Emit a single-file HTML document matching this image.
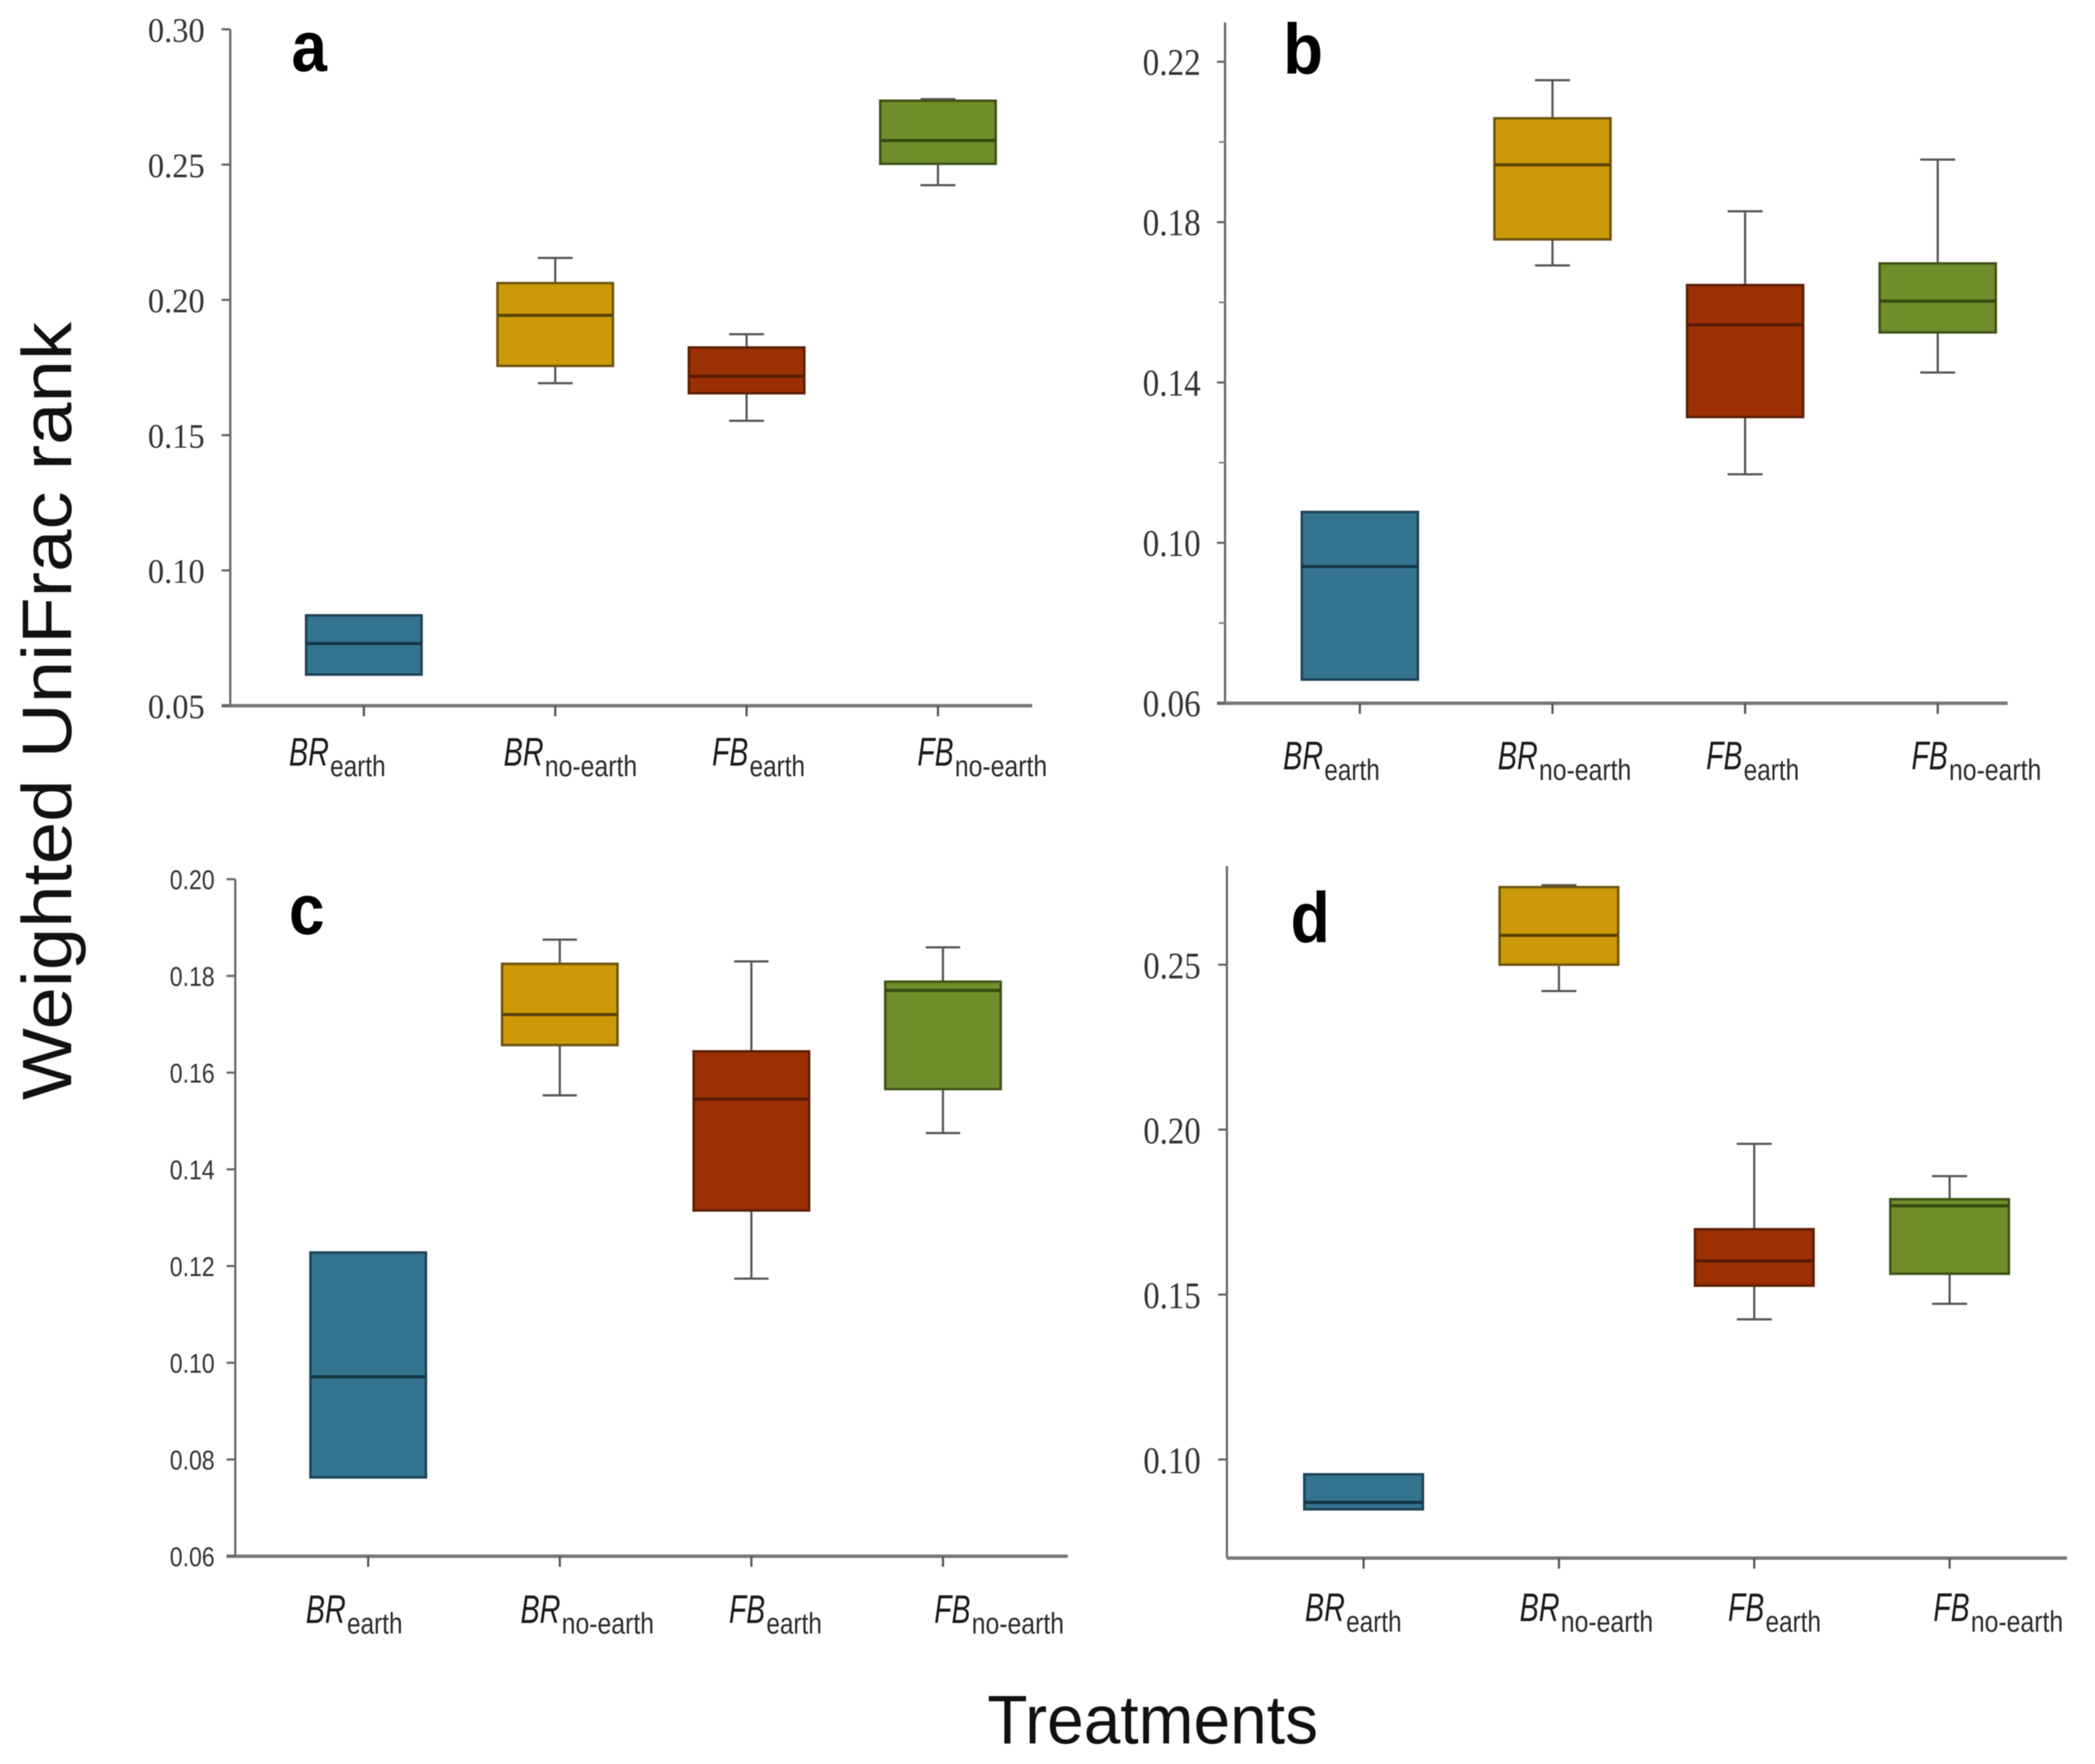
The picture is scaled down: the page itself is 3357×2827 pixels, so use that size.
<!DOCTYPE html>
<html lang="en">
<head>
<meta charset="utf-8">
<title>Weighted UniFrac rank by treatment</title>
<style>
html,body{margin:0;padding:0;background:#fff;}
#chart{display:block;width:3357px;height:2827px;filter:blur(0.9px);}
</style>
</head>
<body>
<svg id="chart" xmlns="http://www.w3.org/2000/svg" width="3357" height="2827" viewBox="0 0 3357 2827">
  <rect x="0" y="0" width="3357" height="2827" fill="#ffffff"/>
  <text transform="translate(114,1763) rotate(-90)" font-family="'Liberation Sans',sans-serif" font-size="112" fill="#111" textLength="1247" lengthAdjust="spacingAndGlyphs">Weighted UniFrac rank</text>
  <text x="1582" y="2794" font-family="'Liberation Sans',sans-serif" font-size="110" fill="#111" textLength="530" lengthAdjust="spacingAndGlyphs">Treatments</text>
</svg>
<script>
// Shared categories
const catMain = ["BR", "BR", "FB", "FB"];
const catSub = ["earth", "no-earth", "earth", "no-earth"];

// Panel a values (BR earth, BR no-earth, FB earth, FB no-earth)
const aLow = [null, 0.1692, 0.1553, 0.2424];
const aQ1 = [0.0615, 0.1756, 0.1655, 0.2503];
const aMedian = [0.0730, 0.1943, 0.1718, 0.2589];
const aQ3 = [0.0834, 0.2062, 0.1824, 0.2736];
const aHigh = [null, 0.2155, 0.1873, 0.2742];
const aTicks = ["0.05", "0.10", "0.15", "0.20", "0.25", "0.30"];

// Panel b values
const bLow = [null, 0.1692, 0.1171, 0.1425];
const bQ1 = [0.0659, 0.1757, 0.1314, 0.1525];
const bMedian = [0.0941, 0.1943, 0.1544, 0.1603];
const bQ3 = [0.1077, 0.2059, 0.1643, 0.1697];
const bHigh = [null, 0.2154, 0.1827, 0.1956];
const bTicks = ["0.06", "0.10", "0.14", "0.18", "0.22"];
const bMinorTicks = [0.08, 0.12, 0.16, 0.20];

// Panel c values
const cLow = [null, 0.1553, 0.1174, 0.1475];
const cQ1 = [0.0763, 0.1657, 0.1315, 0.1566];
const cMedian = [0.0971, 0.1720, 0.1545, 0.1770];
const cQ3 = [0.1228, 0.1825, 0.1644, 0.1788];
const cHigh = [null, 0.1875, 0.1830, 0.1859];
const cTicks = ["0.06", "0.08", "0.10", "0.12", "0.14", "0.16", "0.18", "0.20"];

// Panel d values
const dLow = [null, 0.2420, 0.1425, 0.1472];
const dQ1 = [0.0849, 0.2500, 0.1527, 0.1563];
const dMedian = [0.0870, 0.2589, 0.1602, 0.1769];
const dQ3 = [0.0955, 0.2735, 0.1698, 0.1789];
const dHigh = [null, 0.2741, 0.1957, 0.1859];
const dTicks = ["0.10", "0.15", "0.20", "0.25"];

const fills = ["#35748f", "#cc9a08", "#9c2f03", "#6f8e2b"];
const edges = ["#1d4355", "#6e5410", "#5a2005", "#3f5318"];
const medians = ["#143443", "#5a4306", "#561a02", "#35490f"];
const labelOffsets = [0, 344, 678, 1007];

const svg = document.getElementById("chart");
const NS = "http://www.w3.org/2000/svg";

function make(tag, parent, props) {
  const el = document.createElementNS(NS, tag);
  for (const k in props) el.setAttribute(k, props[k]);
  parent.appendChild(el);
  return el;
}

function linearScale(v0, p0, v1, p1) {
  return function (v) { return p0 + (v - v0) * (p1 - p0) / (v1 - v0); };
}

function categoryScale(first, last, count) {
  return function (i) { return first + i * (last - first) / (count - 1); };
}

function drawPanel(p) {
  const y = linearScale(p.refV0, p.refY0, p.refV1, p.refY1);
  const x = categoryScale(p.firstX, p.lastX, catMain.length);
  const g = make("g", svg, {});
  
  

  // Axes
  const yAxis = make("line", g, {x1: p.axisX, x2: p.axisX, y1: p.axisTop, y2: p.axisBottom, stroke: "#666", "stroke-width": 3.5});
  
  
  const xAxis = make("line", g, {x1: p.axisX - p.axisOverhang, x2: p.axisEnd, y1: p.axisBottom, y2: p.axisBottom, stroke: "#777", "stroke-width": 5.5});
  
  

  // Y ticks and labels
  p.ticks.forEach(function (t) {
    const ty = y(parseFloat(t));
    const tick = make("line", g, {x1: p.axisX - p.tickLen, x2: p.axisX, y1: ty, y2: ty, stroke: "#666", "stroke-width": 3.5});
    
    
    const lab = make("text", g, {x: p.tickRight - p.tickWidth, y: ty + p.tickDy, "font-family": p.tickFont, "font-size": p.tickSize, fill: "#333", textLength: p.tickWidth, lengthAdjust: "spacingAndGlyphs"});
    
    
    lab.textContent = t;
  });
  (p.minor || []).forEach(function (t) {
    const ty = y(t);
    const tick = make("line", g, {x1: p.axisX - p.tickLen + 3, x2: p.axisX, y1: ty, y2: ty, stroke: "#888", "stroke-width": 3});
    
    
  });

  // Boxes
  catMain.forEach(function (m, i) {
    const cx = x(i);
    const name = p.id + "-" + m.toLowerCase() + "-" + catSub[i];

    const xt = make("line", g, {x1: cx, x2: cx, y1: p.axisBottom, y2: p.axisBottom + 17, stroke: "#555", "stroke-width": 3.5});
    
    

    if (p.low[i] !== null) {
      const whisk = make("path", g, {
        d: "M" + cx + " " + y(p.high[i]) + "V" + y(p.q3[i]) + "M" + cx + " " + y(p.q1[i]) + "V" + y(p.low[i]) +
           "M" + (cx - p.cap) + " " + y(p.high[i]) + "H" + (cx + p.cap) +
           "M" + (cx - p.cap) + " " + y(p.low[i]) + "H" + (cx + p.cap),
        fill: "none", stroke: "#555", "stroke-width": 3.5
      });
      
      
    }

    const box = make("rect", g, {x: cx - p.half, y: y(p.q3[i]), width: 2 * p.half, height: y(p.q1[i]) - y(p.q3[i]), fill: fills[i], stroke: edges[i], "stroke-width": 4});
    
    

    const med = make("line", g, {x1: cx - p.half, x2: cx + p.half, y1: y(p.median[i]), y2: y(p.median[i]), stroke: medians[i], "stroke-width": 5});
    
    

    // Category label
    const lx = p.labelX + labelOffsets[i];
    const mainW = m === "BR" ? 64 : 58;
    const subW = catSub[i] === "earth" ? 89 : 148;
    const mainText = make("text", g, {x: lx, y: p.labelY, "font-family": "'Liberation Sans',sans-serif", "font-style": "italic", "font-size": 64, fill: "#1a1a1a", textLength: mainW, lengthAdjust: "spacingAndGlyphs"});
    
    
    mainText.textContent = m;
    const subText = make("text", g, {x: lx + mainW + 2, y: p.labelY + 17, "font-family": "'Liberation Sans',sans-serif", "font-size": 47, fill: "#2a2a2a", textLength: subW, lengthAdjust: "spacingAndGlyphs"});
    
    
    subText.textContent = catSub[i];
  });

  // Panel letter
  const letter = make("text", g, {x: p.letterX, y: p.letterY, "font-family": "'Liberation Sans',sans-serif", "font-weight": "bold", "font-size": 114, fill: "#000", textLength: p.letterW, lengthAdjust: "spacingAndGlyphs"});
  
  
  letter.textContent = p.id;
}

const serif = "'Liberation Serif',serif";
const sans = "'Liberation Sans',sans-serif";

drawPanel({id: "a", low: aLow, q1: aQ1, median: aMedian, q3: aQ3, high: aHigh, ticks: aTicks,
  refV0: 0.05, refY0: 1131, refV1: 0.30, refY1: 47, axisX: 369, axisTop: 47, axisBottom: 1131, axisEnd: 1654,
  firstX: 583, lastX: 1503, half: 92.5, cap: 28, tickLen: 14, axisOverhang: 14,
  tickRight: 328, tickWidth: 91, tickDy: 20, tickSize: 55, tickFont: serif,
  labelX: 463, labelY: 1227, letterX: 467, letterY: 114, letterW: 57});

drawPanel({id: "b", low: bLow, q1: bQ1, median: bMedian, q3: bQ3, high: bHigh, ticks: bTicks, minor: bMinorTicks,
  refV0: 0.06, refY0: 1127, refV1: 0.22, refY1: 99, axisX: 1963, axisTop: 36, axisBottom: 1127, axisEnd: 3217,
  firstX: 2179, lastX: 3105, half: 93, cap: 28, tickLen: 13, axisOverhang: 13,
  tickRight: 1924, tickWidth: 93, tickDy: 21, tickSize: 60, tickFont: serif,
  labelX: 2056, labelY: 1233, letterX: 2056, letterY: 118, letterW: 64});

drawPanel({id: "c", low: cLow, q1: cQ1, median: cMedian, q3: cQ3, high: cHigh, ticks: cTicks,
  refV0: 0.06, refY0: 2494, refV1: 0.20, refY1: 1409, axisX: 377, axisTop: 1409, axisBottom: 2494, axisEnd: 1711,
  firstX: 590, lastX: 1511, half: 92.5, cap: 27.5, tickLen: 14, axisOverhang: 14,
  tickRight: 344, tickWidth: 72, tickDy: 16, tickSize: 44, tickFont: sans,
  labelX: 490, labelY: 2601, letterX: 463, letterY: 1497, letterW: 57});

drawPanel({id: "d", low: dLow, q1: dQ1, median: dMedian, q3: dQ3, high: dHigh, ticks: dTicks,
  refV0: 0.10, refY0: 2339, refV1: 0.25, refY1: 1546, axisX: 1966, axisTop: 1388, axisBottom: 2497, axisEnd: 3312,
  firstX: 2185, lastX: 3124, half: 95, cap: 28, tickLen: 14, axisOverhang: 0,
  tickRight: 1924, tickWidth: 92, tickDy: 22, tickSize: 60, tickFont: serif,
  labelX: 2091, labelY: 2598, letterX: 2068, letterY: 1510, letterW: 63});
</script>
</body>
</html>
